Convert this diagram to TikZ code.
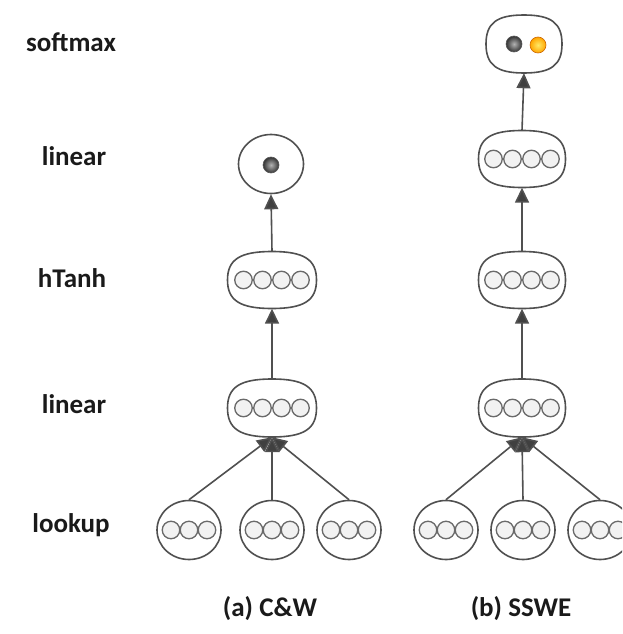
\documentclass[tikz,border=0pt]{standalone}
\usepackage{fontspec}
\setmainfont{Carlito}
\usetikzlibrary{arrows.meta,shapes.geometric}
\definecolor{edge}{HTML}{505050}
\definecolor{unitfill}{HTML}{F2F2F2}
\definecolor{ink}{HTML}{1A1A1A}
\tikzset{
  outline/.style={draw=edge, line width=1.6pt, fill=white},
  anchorbox/.style={rectangle, draw=none, inner sep=0pt},
  wordbox/.style={outline, ellipse, minimum width=64pt, minimum height=59pt, inner sep=0pt},
  outbox/.style={wordbox, minimum width=65pt, minimum height=59pt},
  unit/.style={draw=edge!85, line width=1.3pt, fill=unitfill, circle,
    minimum size=17.5pt, inner sep=0pt},
  flow/.style={draw=edge, line width=1.6pt,
    -{Triangle[length=15pt,width=14pt,fill=black!75]}},
  rowlabel/.style={font=\bfseries\fontsize{27}{30}\selectfont, text=ink, anchor=center},
  caption/.style={font=\bfseries\fontsize{27}{30}\selectfont, text=ink, anchor=center},
}
% squircle-shaped layer: name, centre, half width, half height
\newcommand\layerblob[4]{%
  \node[anchorbox, minimum width=2*#3 pt, minimum height=2*#4 pt] (#1) at (#2) {};
  \pgfmathsetmacro\kx{0.72*#3}\pgfmathsetmacro\ky{0.72*#4}%
  \begin{scope}[shift={(#1.center)}]
    \draw[outline] (#3,0) .. controls (#3,\ky) and (\kx,#4) .. (0,#4)
      .. controls (-\kx,#4) and (-#3,\ky) .. (-#3,0)
      .. controls (-#3,-\ky) and (-\kx,-#4) .. (0,-#4)
      .. controls (\kx,-#4) and (#3,-\ky) .. (#3,0) -- cycle;
  \end{scope}}
\begin{document}
\begin{tikzpicture}[x=1pt,y=-1pt]
  \useasboundingbox (0,0) rectangle (622,634);
  \clip (0,0) rectangle (622,634);
  \fill[white] (0,0) rectangle (622,634);

  % row labels
  \node[rowlabel] (lsoft) at (71,42) {softmax};
  \node[rowlabel] (llin2) at (74,156) {linear};
  \node[rowlabel] (lhtanh) at (72,278) {hTanh};
  \node[rowlabel] (llin1) at (74,404) {linear};
  \node[rowlabel] (llook) at (71,525) {lookup};

  % captions
  \node[caption] (capa) at (270,609) {(a) C\&W};
  \node[caption] (capb) at (521,609) {(b) SSWE};

  % ---------- (a) C&W ----------
  \node[outbox] (aout) at (271,164) {};
  \layerblob{ahid}{272,280}{44.5}{28.5}
  \layerblob{alin}{272,408}{44.5}{29}
  \node[wordbox] (aw1) at (189,530) {};
  \node[wordbox] (aw2) at (272,530) {};
  \node[wordbox] (aw3) at (349,530) {};

  % ---------- (b) SSWE ----------
  \layerblob{bsoft}{524,44}{38}{29}
  \layerblob{bout}{522,159}{43.5}{28.5}
  \layerblob{bhid}{522,280}{43.5}{28.5}
  \layerblob{blin}{522,408}{43.5}{29}
  \node[wordbox] (bw1) at (446,530) {};
  \node[wordbox] (bw2) at (523,530) {};
  \node[wordbox] (bw3) at (600,530) {};

  % hidden units inside the layers
  \foreach \n in {ahid,alin,bout,bhid,blin}{
    \foreach \dx in {-28.5,-9.5,9.5,28.5}{
      \node[unit] at ([xshift=\dx pt]\n.center) {};
    }
  }
  \foreach \n in {aw1,aw2,aw3,bw1,bw2,bw3}{
    \foreach \dx in {-18,0,18}{
      \node[unit] at ([xshift=\dx pt]\n.center) {};
    }
  }

  % output units
  \shade[inner color=gray!60, outer color=black!80, draw=black!65, line width=0.6pt]
    ([yshift=-1pt]aout.center) circle (8pt);
  \shade[inner color=gray!60, outer color=black!80, draw=black!65, line width=0.6pt]
    ([xshift=-10pt]bsoft.center) circle (8pt);
  \shade[inner color=yellow!70!orange!60, outer color=orange!70!yellow, draw=orange!80!black, line width=0.6pt]
    ([xshift=14pt,yshift=-1pt]bsoft.center) circle (8pt);

  % connections
  \draw[flow] (ahid.north) -- (aout.south);
  \draw[flow] (alin.north) -- (ahid.south);
  \foreach \w in {aw1,aw2,aw3}{ \draw[flow] (\w.north) -- (alin.south); }

  \draw[flow] (bout.north) -- (bsoft.south);
  \draw[flow] (bhid.north) -- (bout.south);
  \draw[flow] (blin.north) -- (bhid.south);
  \foreach \w in {bw1,bw2,bw3}{ \draw[flow] (\w.north) -- (blin.south); }
\end{tikzpicture}
\end{document}
